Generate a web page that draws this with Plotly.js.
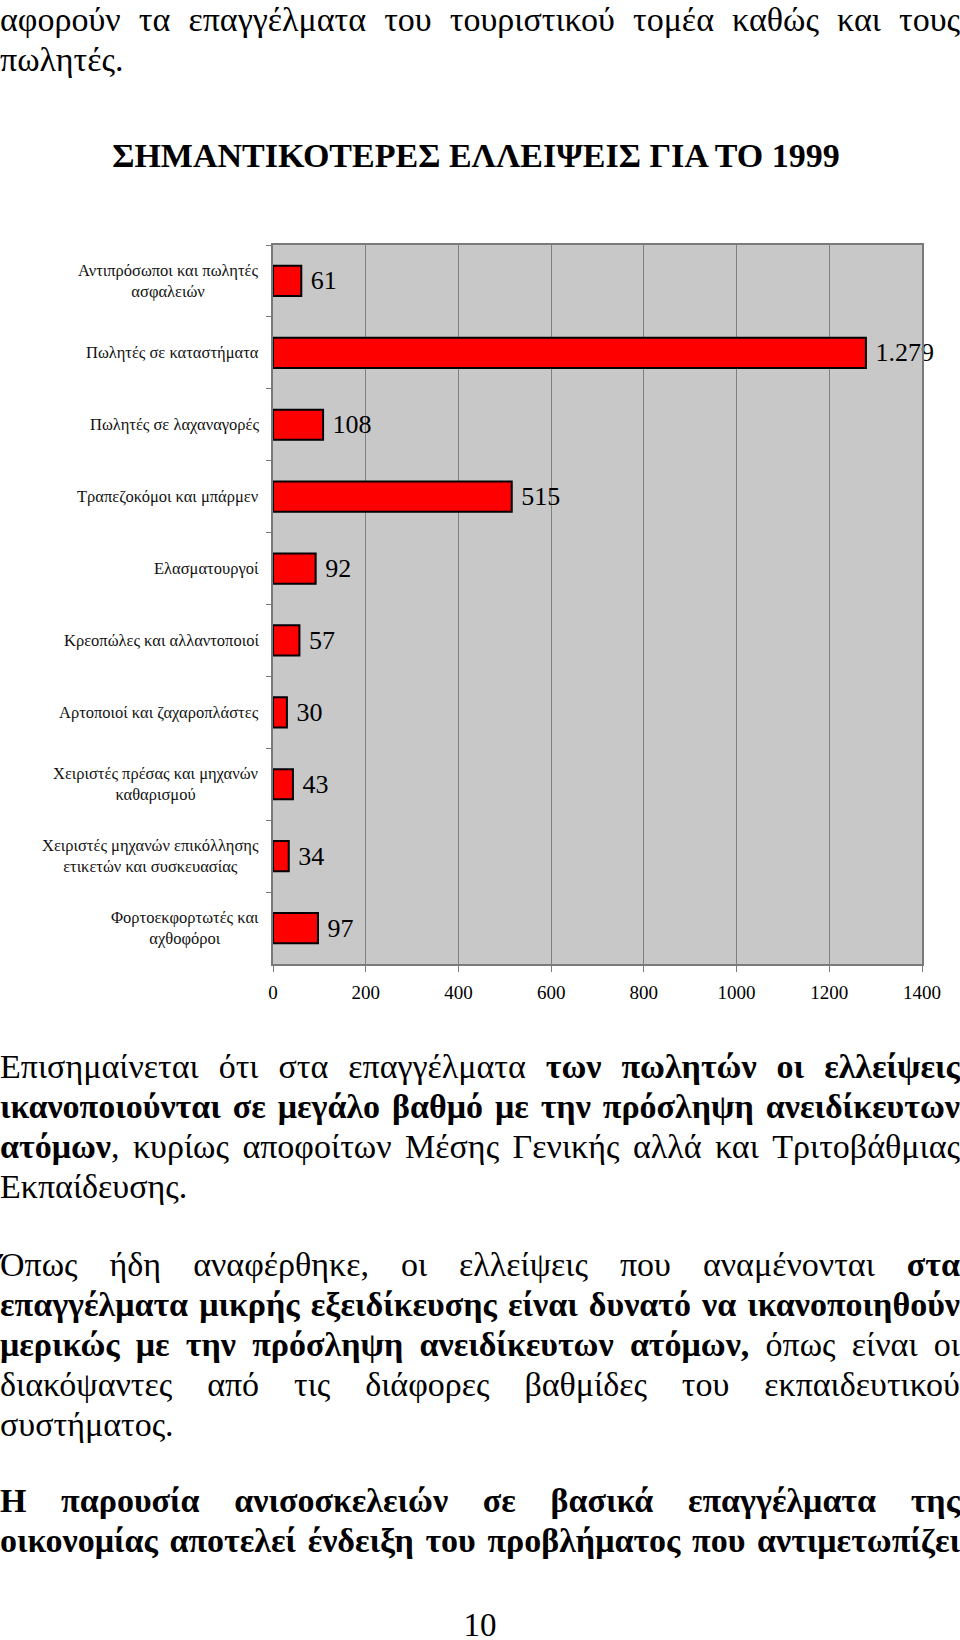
<!DOCTYPE html>
<html>
<head>
<meta charset="utf-8">
<script src="https://cdn.plot.ly/plotly-3.0.1.min.js"></script>
<style>
html,body{margin:0;padding:0;background:#fff;}
body{width:960px;height:1640px;position:relative;overflow:hidden;font-family:"Liberation Serif","Times New Roman",serif;color:#000;}
.para{position:absolute;left:0;width:960px;font-size:34px;line-height:40px;}
.line{display:flex;justify-content:space-between;white-space:nowrap;height:40px;transform-origin:0 50%;}
.line.last{justify-content:flex-start;}
.line span{white-space:pre;}
#chart{position:absolute;left:0;top:100px;width:960px;height:940px;}
#pnum{position:absolute;left:0;width:960px;text-align:center;top:1611px;font-size:33px;line-height:28px;height:28px;}
</style>
</head>
<body>
<div id="p0" class="para" style="top:0px"></div>
<div id="chart"></div>
<div id="p1" class="para" style="top:1047px"></div>
<div id="p2" class="para" style="top:1245px"></div>
<div id="p3" class="para" style="top:1481px"></div>
<div id="pnum">10</div>
<script>
// ---- chart data ----
const chartTitle = "ΣΗΜΑΝΤΙΚΟΤΕΡΕΣ ΕΛΛΕΙΨΕΙΣ ΓΙΑ ΤΟ 1999";
const categories = [
  "Αντιπρόσωποι και πωλητές ασφαλειών",
  "Πωλητές σε καταστήματα",
  "Πωλητές σε λαχαναγορές",
  "Τραπεζοκόμοι και μπάρμεν",
  "Ελασματουργοί",
  "Κρεοπώλες και αλλαντοποιοί",
  "Αρτοποιοί και ζαχαροπλάστες",
  "Χειριστές πρέσας και μηχανών καθαρισμού",
  "Χειριστές μηχανών επικόλλησης ετικετών και συσκευασίας",
  "Φορτοεκφορτωτές και αχθοφόροι"
];
const categoryLabels = [
  "Αντιπρόσωποι και πωλητές<br>ασφαλειών",
  "Πωλητές σε καταστήματα",
  "Πωλητές σε λαχαναγορές",
  "Τραπεζοκόμοι και μπάρμεν",
  "Ελασματουργοί",
  "Κρεοπώλες και αλλαντοποιοί",
  "Αρτοποιοί και ζαχαροπλάστες",
  "Χειριστές πρέσας και μηχανών<br>καθαρισμού",
  "Χειριστές μηχανών επικόλλησης<br>ετικετών και συσκευασίας",
  "Φορτοεκφορτωτές και<br>αχθοφόροι"
];
const shortages = [61, 1279, 108, 515, 92, 57, 30, 43, 34, 97];
const xTickValues = [0, 200, 400, 600, 800, 1000, 1200, 1400];

// ---- page text ----
function B(s){ return s.split(' ').map(w => '<b>' + w + '</b>').join(' '); }
const para0 = [
  {t:"αφορούν τα επαγγέλματα του τουριστικού τομέα καθώς και τους"},
  {t:"πωλητές.", last:true}
];
const para1 = [
  {t:"Επισημαίνεται ότι στα επαγγέλματα " + B("των πωλητών οι ελλείψεις")},
  {t:B("ικανοποιούνται σε μεγάλο βαθμό με την πρόσληψη ανειδίκευτων")},
  {t:"<b>ατόμων</b>, κυρίως αποφοίτων Μέσης Γενικής αλλά και Τριτοβάθμιας"},
  {t:"Εκπαίδευσης.", last:true}
];
const para2 = [
  {t:"Όπως ήδη αναφέρθηκε, οι ελλείψεις που αναμένονται " + B("στα")},
  {t:B("επαγγέλματα μικρής εξειδίκευσης είναι δυνατό να ικανοποιηθούν")},
  {t:B("μερικώς με την πρόσληψη ανειδίκευτων ατόμων,") + " όπως είναι οι"},
  {t:"διακόψαντες από τις διάφορες βαθμίδες του εκπαιδευτικού"},
  {t:"συστήματος.", last:true}
];
const para3 = [
  {t:B("Η παρουσία ανισοσκελειών σε βασικά επαγγέλματα της")},
  {t:B("οικονομίας αποτελεί ένδειξη του προβλήματος που αντιμετωπίζει")}
];

function fillPara(id, lines){
  const el = document.getElementById(id);
  lines.forEach(l => {
    const d = document.createElement('div');
    d.className = 'line' + (l.last ? ' last' : '');
    if (l.last) { d.innerHTML = l.t; }
    else {
      l.t.split(' ').forEach(w => {
        const s = document.createElement('span');
        s.innerHTML = w;
        d.appendChild(s);
      });
    }
    el.appendChild(d);
  });
}
fillPara('p0', para0); fillPara('p1', para1); fillPara('p2', para2); fillPara('p3', para3);

function compress(){
  document.querySelectorAll('.line:not(.last)').forEach(d => {
    const spans = Array.from(d.children);
    let sum = 0; spans.forEach(s => sum += s.getBoundingClientRect().width);
    const need = sum + (spans.length - 1) * 7;
    if (need > 960) {
      d.style.width = need + 'px';
      d.style.transform = 'scaleX(' + (960 / need) + ')';
    }
  });
}
compress();

// ---- chart ----
const FONT = 'Liberation Serif, Times New Roman, serif';
const trace = {
  type: 'bar',
  orientation: 'h',
  y: categories,
  x: shortages,
  marker: {color: '#ff0000', line: {color: '#000000', width: 2}},
  texttemplate: '\u00a0%{x:,}',
  textposition: 'outside',
  constraintext: 'none',
  cliponaxis: false,
  textfont: {family: FONT, size: 26, color: '#000'},
  hoverinfo: 'none'
};
const annotations = categories.map((c, i) => ({
  xref: 'paper', x: -0.018, xanchor: 'right',
  yref: 'y', y: c, yanchor: 'middle',
  text: categoryLabels[i], showarrow: false, align: 'center',
  font: {family: FONT, size: 16.5, color: '#111'}
}));
const layout = {
  width: 960, height: 940,
  margin: {l: 273, r: 38, t: 145, b: 76, pad: 0},
  paper_bgcolor: '#ffffff',
  plot_bgcolor: '#c8c8c8',
  separators: ',.',
  font: {family: FONT, color: '#000'},
  title: {
    text: chartTitle,
    xref: 'container', x: 476 / 960, xanchor: 'center',
    yref: 'container', y: 1 - 55 / 940, yanchor: 'middle',
    font: {family: FONT, size: 34, color: '#000', weight: 'bold'}
  },
  bargap: 0.58,
  showlegend: false,
  xaxis: {
    range: [0, 1400], tickmode: 'array', tickvals: xTickValues,
    showgrid: true, gridcolor: '#808080', gridwidth: 1,
    showline: true, linecolor: '#7a7a7a', linewidth: 2, mirror: true,
    ticks: 'outside', ticklen: 6, tickcolor: '#7a7a7a',
    ticklabelstandoff: 4,
    tickfont: {family: FONT, size: 19, color: '#000'},
    zeroline: false, fixedrange: true
  },
  yaxis: {
    type: 'category', categoryorder: 'array', categoryarray: categories,
    autorange: 'reversed', showticklabels: false,
    ticks: 'outside', tickson: 'boundaries', ticklen: 5, tickcolor: '#7a7a7a',
    showgrid: false, showline: true, linecolor: '#7a7a7a', linewidth: 2, mirror: true,
    zeroline: false, fixedrange: true
  },
  annotations: annotations
};
Plotly.newPlot('chart', [trace], layout, {staticPlot: true, displayModeBar: false});
</script>
</body>
</html>
